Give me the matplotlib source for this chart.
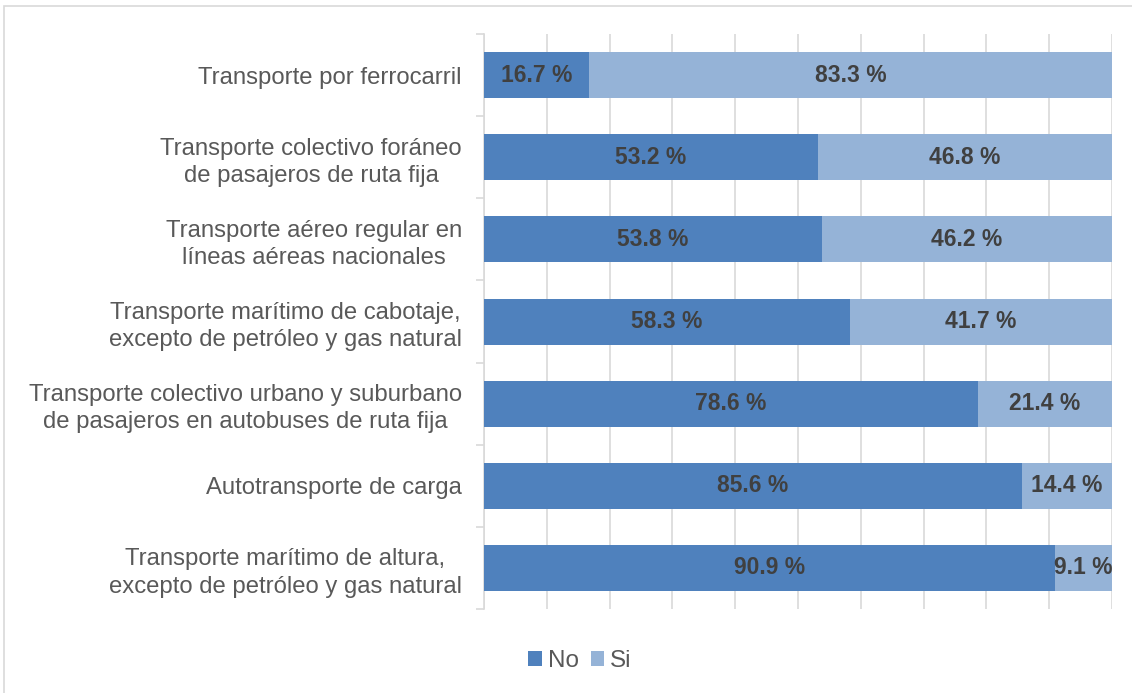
import numpy as np
import matplotlib.pyplot as plt
from matplotlib.patches import Rectangle

# datos (de arriba hacia abajo)
categorias = [
    "Transporte por ferrocarril",
    "Transporte colectivo foráneo\nde pasajeros de ruta fija",
    "Transporte aéreo regular en\nlíneas aéreas nacionales",
    "Transporte marítimo de cabotaje,\nexcepto de petróleo y gas natural",
    "Transporte colectivo urbano y suburbano\nde pasajeros en autobuses de ruta fija",
    "Autotransporte de carga",
    "Transporte marítimo de altura,\nexcepto de petróleo y gas natural",
]
no_vals = [16.7, 53.2, 53.8, 58.3, 78.6, 85.6, 90.9]
si_vals = [83.3, 46.8, 46.2, 41.7, 21.4, 14.4, 9.1]

c_no = "#4F81BD"
c_si = "#95B3D7"
gris = "#D9D9D9"

plt.rcParams['font.family'] = ['Liberation Sans', 'DejaVu Sans']

fig = plt.figure(figsize=(11.32, 6.93), dpi=100)
fig.patch.set_facecolor("white")
ax = fig.add_axes([484/1132, 1-609/693, 628/1132, 575/693])

# marco del gráfico
fig.patches.append(Rectangle((4/1132, -0.05), 1.1, 1-6/693+0.05, transform=fig.transFigure,
                             fill=False, edgecolor=gris, linewidth=1.2))

y = np.arange(len(categorias))
alto = 0.56
b1 = ax.barh(y, no_vals, height=alto, color=c_no, label="No", zorder=3)
b2 = ax.barh(y, si_vals, left=no_vals, height=alto, color=c_si, label="Si", zorder=3)

for i in range(len(categorias)):
    ax.text(no_vals[i]/2, y[i], f"{no_vals[i]:.1f} %", ha="center", va="center",
            fontsize=16.5, fontweight="bold", color="#404040", zorder=4)
    ax.text(no_vals[i] + si_vals[i]/2, y[i], f"{si_vals[i]:.1f} %", ha="center", va="center",
            fontsize=16.5, fontweight="bold", color="#404040", zorder=4)

ax.set_xlim(0, 100)
ax.set_ylim(len(categorias)-0.5, -0.5)
ax.set_xticks(np.arange(0, 101, 10))
ax.set_xticklabels([])
ax.tick_params(axis="x", length=0)
ax.grid(axis="x", color=gris, linewidth=1.2, zorder=0)

ax.set_yticks(y)
ax.set_yticklabels(categorias, fontsize=17.2, color="#595959", linespacing=1.3)
for lbl in ax.get_yticklabels():
    lbl.set_multialignment("center")
ax.tick_params(axis="y", length=0, pad=16)
ax.set_yticks(np.arange(-0.5, len(categorias)), minor=True)
ax.tick_params(axis="y", which="minor", length=6, color=gris, width=1.2)

for s in ["top", "right", "bottom"]:
    ax.spines[s].set_visible(False)
ax.spines["left"].set_color(gris)
ax.spines["left"].set_linewidth(1.2)

fig.legend(handles=[b1, b2], loc="center", bbox_to_anchor=(580/1132, 1-661/693), ncol=2,
           frameon=False, fontsize=17.5, handlelength=0.55, handleheight=0.55,
           handletextpad=0.25, columnspacing=0.5, labelcolor="#595959")

fig.savefig("out.png", dpi=100)
